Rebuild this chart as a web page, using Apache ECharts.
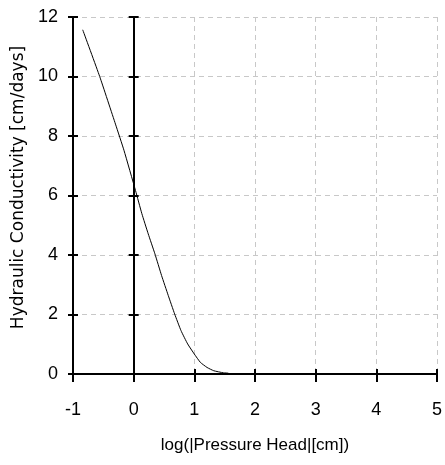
<!DOCTYPE html>
<html>
<head>
<meta charset="utf-8">
<script src="https://cdn.jsdelivr.net/npm/echarts@6/dist/echarts.min.js"></script>
<style>
    html, body { margin: 0; padding: 0; background: #fff; }
    #chart { width: 445px; height: 465px; }
</style>
</head>
<body>
<div id="chart"></div>
<script>
    // curve
    var logHead = [-0.84, -0.56, -0.3, -0.16, 0.03, 0.135, 0.24, 0.35, 0.46, 0.57, 0.675, 0.78, 0.89, 1.0, 1.1, 1.21, 1.32, 1.48, 1.56];
    var conductivity = [11.57, 10.0, 8.4, 7.52, 6.17, 5.39, 4.71, 4.04, 3.31, 2.64, 2.02, 1.46, 1.01, 0.67, 0.39, 0.22, 0.11, 0.04, 0.03];
    var xTicks = [-1, 0, 1, 2, 3, 4, 5];
    var yTicks = [0, 2, 4, 6, 8, 10, 12];

    var font = '"Liberation Sans", Arial, sans-serif';
    var pts = [];
    for (var i = 0; i < logHead.length; i++) {
        pts.push([logHead[i], conductivity[i]]);
    }

    // 坐标轴公共部分
    function xAx(inside, show) {
        return {
            type: 'value',
            min: xTicks[0], max: xTicks[xTicks.length - 1], interval: 1,
            position: 'bottom',
            axisLine: { show: true, onZero: false, lineStyle: { color: '#000', width: 2 } },
            axisTick: { show: true, inside: inside, length: inside ? 5 : 8, lineStyle: { color: '#000', width: 2 } },
            axisLabel: { show: show, margin: 27, color: '#000', fontSize: 18, fontFamily: font },
            splitLine: { show: show, lineStyle: { color: '#c8c8c8', type: [5, 4], width: 1 } },
            name: show ? 'log(|Pressure Head|[cm])' : '',
            nameLocation: 'middle',
            nameGap: 63,
            nameTextStyle: { color: '#000', fontSize: 17, fontFamily: font, verticalAlign: 'top' }
        };
    }
    function yAx(inside, onZero, show) {
        return {
            type: 'value',
            min: yTicks[0], max: yTicks[yTicks.length - 1], interval: 2,
            position: 'left',
            offset: 0,
            axisLine: { show: true, onZero: onZero, lineStyle: { color: '#000', width: 2 } },
            axisTick: { show: true, inside: inside, length: 5, lineStyle: { color: '#000', width: 2 } },
            axisLabel: { show: show, margin: 15, color: '#000', fontSize: 18, fontFamily: font },
            splitLine: { show: show, lineStyle: { color: '#c8c8c8', type: [5, 4], width: 1 } },
            name: show ? 'Hydraulic Conductivity [cm/days]' : '',
            nameLocation: 'middle',
            nameGap: 42,
            nameTextStyle: { color: '#000', fontSize: 17, fontFamily: '"DejaVu Sans", sans-serif', padding: [0, 0, 0, 16] }
        };
    }

    var myChart = echarts.init(document.getElementById('chart'), null, { renderer: 'canvas' });
    var option = {
        backgroundColor: '#fff',
        animation: false,
        grid: { left: 73, right: 2, top: 17, bottom: 91, containLabel: false },
        xAxis: [xAx(false, true), xAx(true, false)],
        yAxis: [yAx(false, false, true), yAx(true, false, false), yAx(false, true, false), yAx(true, true, false)],
        series: [
            {
                type: 'line',
                xAxisIndex: 0,
                yAxisIndex: 0,
                data: pts,
                smooth: 0.15,
                showSymbol: false,
                lineStyle: { color: '#000', width: 1 },
                z: 5
            }
        ]
    };
    myChart.setOption(option);
</script>
</body>
</html>
